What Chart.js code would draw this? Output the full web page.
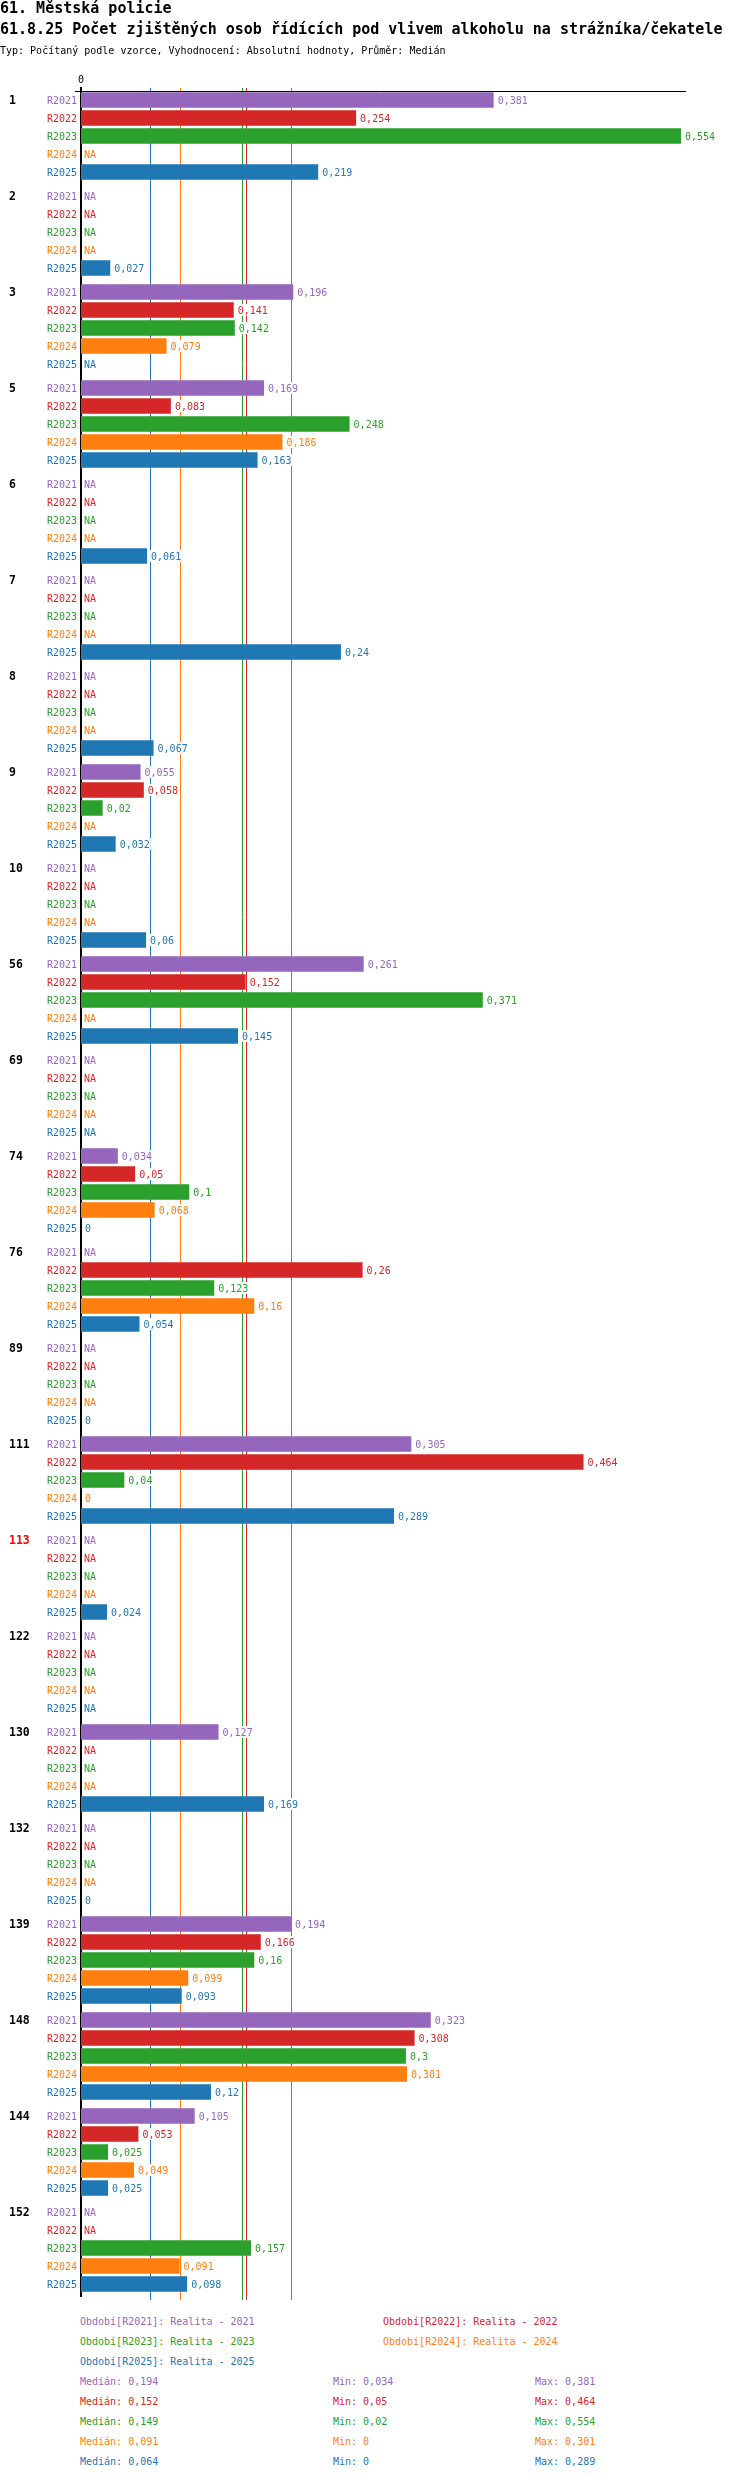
<!DOCTYPE html>
<html>
<head>
<meta charset="utf-8">
<script src="https://cdn.jsdelivr.net/npm/chart.js@4.4.1/dist/chart.umd.min.js"></script>
<style>
  body { margin: 0; background: #fff; }
  #page { position: relative; width: 750px; height: 2480px; font-family: "DejaVu Sans Mono", monospace; }
  #page canvas { position: absolute; left: 0; top: 0; }
  .t { position: absolute; white-space: pre; font-size: 10px; line-height: 12px; }
  .h1 { font-weight: bold; font-size: 15px; line-height: 18px; }
</style>
</head>
<body>
<div id="page">
  <canvas id="chart" width="750" height="2310" style="width:750px;height:2310px"></canvas>
  <div class="t h1" style="top:-1px;left:0">61. Městská policie</div>
  <div class="t h1" style="top:20px;left:0">61.8.25 Počet zjištěných osob řídících pod vlivem alkoholu na strážníka/čekatele</div>
  <div class="t" style="top:45px;left:0">Typ: Počítaný podle vzorce, Vyhodnocení: Absolutní hodnoty, Průměr: Medián</div>
  <div id="legend"></div>
</div>
<script>
// groups (one per row block)
const groups = ["1", "2", "3", "5", "6", "7", "8", "9", "10", "56", "69", "74", "76", "89",
  "111", "113", "122", "130", "132", "139", "148", "144", "152"];
const highlightedGroups = ["113"];

const seriesNames = ["R2021", "R2022", "R2023", "R2024", "R2025"];
const seriesTitles = ["Realita - 2021", "Realita - 2022", "Realita - 2023", "Realita - 2024", "Realita - 2025"];
const seriesColors = ["#9467bd", "#d62728", "#2ca02c", "#ff7f0e", "#1f77b4"];

// null = NA
const r2021 = [0.381, null, 0.196, 0.169, null, null, null, 0.055, null, 0.261, null, 0.034, null, null,
  0.305, null, null, 0.127, null, 0.194, 0.323, 0.105, null];
const r2022 = [0.254, null, 0.141, 0.083, null, null, null, 0.058, null, 0.152, null, 0.05, 0.26, null,
  0.464, null, null, null, null, 0.166, 0.308, 0.053, null];
const r2023 = [0.554, null, 0.142, 0.248, null, null, null, 0.02, null, 0.371, null, 0.1, 0.123, null,
  0.04, null, null, null, null, 0.16, 0.3, 0.025, 0.157];
const r2024 = [null, null, 0.079, 0.186, null, null, null, null, null, null, null, 0.068, 0.16, null,
  0, null, null, null, null, 0.099, 0.301, 0.049, 0.091];
const r2025 = [0.219, 0.027, null, 0.163, 0.061, 0.24, 0.067, 0.032, 0.06, 0.145, null, 0, 0.054, 0,
  0.289, 0.024, null, 0.169, 0, 0.093, 0.12, 0.025, 0.098];
const seriesValues = [r2021, r2022, r2023, r2024, r2025];

// summary shown under the chart
const medians = [0.194, 0.152, 0.149, 0.091, 0.064];
const mins = [0.034, 0.05, 0.02, 0, 0];
const maxs = [0.381, 0.464, 0.554, 0.301, 0.289];

const xTicks = [0];
const xMax = 0.5586;

const FONT = "DejaVu Sans Mono";
const fmt = (v) => String(v).replace(".", ",");

// median lines + top rule, behind the bars
const medianLines = {
  id: "medianLines",
  beforeDatasetsDraw(chart) {
    const { ctx, chartArea, scales } = chart;
    ctx.save();
    ctx.lineWidth = 1;
    medians.forEach((m, i) => {
      const x = Math.round(scales.x.getPixelForValue(m)) + 0.5;
      ctx.strokeStyle = seriesColors[i];
      ctx.beginPath();
      ctx.moveTo(x, chartArea.top);
      ctx.lineTo(x, chartArea.bottom + 4);
      ctx.stroke();
    });
    const first = chart.getDatasetMeta(0).data[0];
    const y = Math.round(first.y - first.height / 2) - 0.5;
    ctx.strokeStyle = "#000";
    ctx.beginPath();
    ctx.moveTo(chartArea.left - 6, y);
    ctx.lineTo(chartArea.right, y);
    ctx.stroke();
    ctx.restore();
  },
};

// series name on the left of every bar, value (or NA) on the right
const barLabels = {
  id: "barLabels",
  afterDatasetsDraw(chart) {
    const { ctx, scales } = chart;
    const x0 = scales.x.getPixelForValue(0);
    ctx.save();
    ctx.font = "10px '" + FONT + "'";
    ctx.textBaseline = "middle";
    chart.data.datasets.forEach((ds, d) => {
      const meta = chart.getDatasetMeta(d);
      meta.data.forEach((el, i) => {
        const v = ds.data[i];
        ctx.fillStyle = seriesColors[d];
        ctx.textAlign = "right";
        ctx.fillText(seriesNames[d], x0 - 4, el.y + 1);
        ctx.textAlign = "left";
        const text = v === null ? "NA" : fmt(v);
        const tx = v === null ? x0 + 3 : scales.x.getPixelForValue(v) + 4;
        const w = ctx.measureText(text).width;
        ctx.fillStyle = "#fff";
        ctx.fillRect(tx - 1, el.y - 6, w + 2, 12);
        ctx.fillStyle = seriesColors[d];
        ctx.fillText(text, tx, el.y + 1);
      });
    });
    ctx.restore();
  },
};

new Chart(document.getElementById("chart"), {
  type: "bar",
  data: {
    labels: groups,
    datasets: seriesNames.map((name, i) => ({
      label: name,
      data: seriesValues[i],
      backgroundColor: seriesColors[i],
      categoryPercentage: 0.9375,
      barPercentage: 0.86,
    })),
  },
  options: {
    indexAxis: "y",
    responsive: false,
    animation: false,
    devicePixelRatio: 1,
    layout: { padding: { top: 60, left: 9, right: 64, bottom: 14 } },
    plugins: { legend: { display: false }, tooltip: { enabled: false } },
    scales: {
      x: {
        position: "top",
        min: 0,
        max: xMax,
        afterFit: (s) => { s.height = 28; },
        afterBuildTicks: (s) => { s.ticks = xTicks.map((v) => ({ value: v })); },
        grid: { display: false },
        border: { display: false },
        ticks: {
          color: "#000",
          padding: -6,
          font: { family: FONT, size: 10 },
          callback: (v) => fmt(v),
        },
      },
      y: {
        afterFit: (s) => { s.width = 72; },
        grid: { display: false },
        border: { color: "#000", width: 2 },
        ticks: {
          crossAlign: "far",
          labelOffset: -35,
          padding: 0,
          font: { family: FONT, size: 11.5, weight: "bold" },
          color: (c) => highlightedGroups.includes(groups[c.index]) ? "#ff0000" : "#000",
        },
      },
    },
  },
  plugins: [medianLines, barLabels],
});

// legend and summary under the chart
const legend = document.getElementById("legend");
function addText(text, left, top, color) {
  const div = document.createElement("div");
  div.className = "t";
  div.style.left = left + "px";
  div.style.top = top + "px";
  div.style.color = color;
  div.textContent = text;
  legend.appendChild(div);
}
seriesNames.forEach((name, i) => {
  const col = i % 2, row = Math.floor(i / 2);
  addText("Období[" + name + "]: " + seriesTitles[i], col ? 383 : 80, 2316 + row * 20, seriesColors[i]);
});
seriesNames.forEach((name, i) => {
  const top = 2376 + i * 20;
  addText("Medián: " + fmt(medians[i]), 80, top, seriesColors[i]);
  addText("Min: " + fmt(mins[i]), 333, top, seriesColors[i]);
  addText("Max: " + fmt(maxs[i]), 535, top, seriesColors[i]);
});
</script>
</body>
</html>
